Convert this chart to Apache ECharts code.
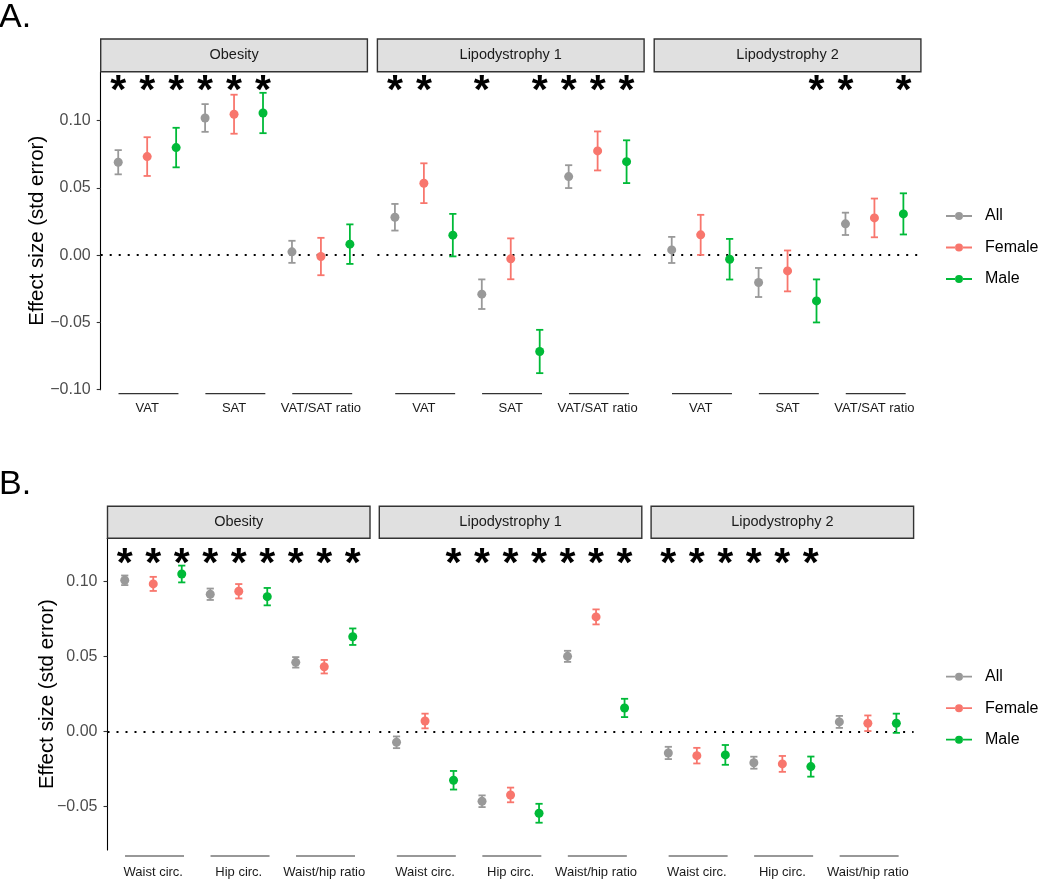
<!DOCTYPE html>
<html><head><meta charset="utf-8">
<script src="https://cdn.jsdelivr.net/npm/echarts@6.0.0/dist/echarts.min.js"></script>
<style>html,body{margin:0;padding:0;background:#fff}#c{width:1050px;height:879px}</style>
</head><body><div id="c"></div>
<script>
// ---------- DATA ----------
const groups = ['All', 'Female', 'Male'];
const facetNames = ['Obesity', 'Lipodystrophy 1', 'Lipodystrophy 2'];
const catsA = ['VAT', 'SAT', 'VAT/SAT ratio'];
const catsB = ['Waist circ.', 'Hip circ.', 'Waist/hip ratio'];
const yTicksA = [-0.10, -0.05, 0.00, 0.05, 0.10];
const yTicksB = [-0.05, 0.00, 0.05, 0.10];
const yTitle = 'Effect size (std error)';

// rows: All, Female, Male ; columns: categories
// Panel A
const A_obesity_est = [[0.0691, 0.1020, 0.0025], [0.0733, 0.1048, -0.0010], [0.0800, 0.1057, 0.0082]];
const A_obesity_se  = [[0.0090, 0.0103, 0.0082], [0.0144, 0.0145, 0.0139], [0.0147, 0.0150, 0.0147]];
const A_obesity_sig = [[1, 1, 0], [1, 1, 0], [1, 1, 0]];
const A_lipo1_est = [[0.0282, -0.0290, 0.0584], [0.0535, -0.0027, 0.0775], [0.0149, -0.0716, 0.0695]];
const A_lipo1_se  = [[0.0099, 0.0110, 0.0085], [0.0148, 0.0152, 0.0145], [0.0158, 0.0161, 0.0159]];
const A_lipo1_sig = [[1, 1, 1], [1, 0, 1], [0, 1, 1]];
const A_lipo2_est = [[0.0039, -0.0203, 0.0233], [0.0151, -0.0117, 0.0277], [-0.0030, -0.0340, 0.0307]];
const A_lipo2_se  = [[0.0097, 0.0108, 0.0083], [0.0149, 0.0152, 0.0144], [0.0151, 0.0160, 0.0153]];
const A_lipo2_sig = [[0, 0, 1], [0, 0, 0], [0, 1, 1]];
// Panel B
const B_obesity_est = [[0.1009, 0.0916, 0.0462], [0.0985, 0.0936, 0.0433], [0.1051, 0.0900, 0.0633]];
const B_obesity_se  = [[0.0032, 0.0038, 0.0035], [0.0047, 0.0048, 0.0045], [0.0056, 0.0058, 0.0055]];
const B_obesity_sig = [[1, 1, 1], [1, 1, 1], [1, 1, 1]];
const B_lipo1_est = [[-0.0071, -0.0464, 0.0502], [0.0071, -0.0422, 0.0765], [-0.0324, -0.0544, 0.0158]];
const B_lipo1_se  = [[0.0039, 0.0039, 0.0037], [0.0049, 0.0049, 0.0050], [0.0062, 0.0063, 0.0061]];
const B_lipo1_sig = [[0, 1, 1], [0, 1, 1], [1, 1, 1]];
const B_lipo2_est = [[-0.0142, -0.0207, 0.0065], [-0.0160, -0.0215, 0.0056], [-0.0155, -0.0233, 0.0056]];
const B_lipo2_se  = [[0.0041, 0.0040, 0.0040], [0.0052, 0.0053, 0.0052], [0.0066, 0.0067, 0.0064]];
const B_lipo2_sig = [[1, 1, 0], [1, 1, 0], [1, 1, 0]];

// ---------- STYLE / LAYOUT ----------
const FONT = 'Liberation Sans, Arial, Helvetica, sans-serif';
const groupColors = ['#999999', '#F8766D', '#00BA38'];
const DODGE = 1 / 3;
const panels = [
  { letter: 'A.', letterTop: 1, cats: catsA, ticks: yTicksA, yMin: -0.10, yMax: 0.1364,
    top: 71.7, height: 318, lefts: [100.7, 377.4, 654.2], width: 266.7, stripH: 32.7,
    starY: 0.1288, ulOff: 4, labMargin: 12.6, nameGap: 53, legendTop: 208,
    est: [A_obesity_est, A_lipo1_est, A_lipo2_est], se: [A_obesity_se, A_lipo1_se, A_lipo2_se],
    sig: [A_obesity_sig, A_lipo1_sig, A_lipo2_sig] },
  { letter: 'B.', letterTop: 468, cats: catsB, ticks: yTicksB, yMin: -0.0789, yMax: 0.1289,
    top: 538.3, height: 311.7, lefts: [107.5, 379.3, 651.1], width: 262.5, stripH: 32,
    starY: 0.1178, ulOff: 6, labMargin: 15.7, nameGap: 49.5, legendTop: 668.7,
    est: [B_obesity_est, B_lipo1_est, B_lipo2_est], se: [B_obesity_se, B_lipo1_se, B_lipo2_se],
    sig: [B_obesity_sig, B_lipo1_sig, B_lipo2_sig] }
];

const fmt = v => (v < -1e-9 ? '\u2212' : '') + Math.abs(v).toFixed(2);

const grids = [], xAxes = [], yAxes = [], series = [], graphics = [], legends = [];
const legendIcon = 'path://M0,3.1h9.2v1.8h-9.2z M16.8,3.1h9.2v1.8h-9.2z M9,4a4,4 0 1,0 8,0a4,4 0 1,0 -8,0z';

panels.forEach((P, pi) => {
  graphics.push({ type: 'text', left: -1, top: P.letterTop,
    style: { text: P.letter, fontSize: 34, fontFamily: FONT, fill: '#000' } });
  legends.push({
    orient: 'vertical', left: 946, top: P.legendTop, padding: 0, itemGap: 15.5,
    itemWidth: 26, itemHeight: 8, selectedMode: false,
    textStyle: { fontSize: 16, fontFamily: FONT, color: '#000', padding: [0, 0, 0, 8] },
    data: groups.map((g, gi) => ({ name: g, icon: legendIcon, itemStyle: { color: groupColors[gi] } }))
  });
  P.lefts.forEach((left, fi) => {
    const gIdx = grids.length;
    grids.push({ left: left, top: P.top, width: P.width, height: P.height, outerBoundsMode: 'none', containLabel: false });
    // strip
    graphics.push({ type: 'rect', shape: { x: left, y: P.top - P.stripH, width: P.width, height: P.stripH },
      style: { fill: '#e0e0e0', stroke: '#333333', lineWidth: 1.4 }, z: 10 });
    graphics.push({ type: 'text', x: left + P.width / 2, y: P.top - P.stripH / 2, z: 11,
      style: { text: facetNames[fi], fontSize: 14.5, fontFamily: FONT, fill: '#1a1a1a', align: 'center', verticalAlign: 'middle' } });
    xAxes.push({ gridIndex: gIdx, type: 'value', min: 0.465, max: 3.535,
      axisLine: { show: false }, axisTick: { show: false }, splitLine: { show: false },
      axisLabel: { customValues: [1, 2, 3], formatter: v => P.cats[Math.round(v) - 1],
        margin: P.labMargin, fontSize: 13, fontFamily: FONT, color: '#1a1a1a' } });
    const first = fi === 0;
    yAxes.push({ gridIndex: gIdx, type: 'value', min: P.yMin, max: P.yMax, show: first,
      splitLine: { show: false },
      axisLine: { show: true, lineStyle: { color: '#000', width: 1.1 } },
      axisTick: { show: true, length: 4, customValues: P.ticks, lineStyle: { color: '#333', width: 1.1 } },
      axisLabel: { customValues: P.ticks, formatter: fmt, margin: 10, fontSize: 16, fontFamily: FONT, color: '#4d4d4d' },
      name: first ? yTitle : '', nameLocation: 'middle', nameGap: P.nameGap, nameMoveOverlap: false,
      nameTextStyle: { fontSize: 20.5, fontFamily: FONT, color: '#000' } });

    const est = P.est[fi], se = P.se[fi], sig = P.sig[fi];
    groups.forEach((g, gi) => {
      const xs = est[gi].map((v, ci) => ci + 1 + (gi - 1) * DODGE);
      series.push({ type: 'custom', name: g, xAxisIndex: gIdx, yAxisIndex: gIdx, z: 2, silent: true,
        itemStyle: { color: groupColors[gi] }, encode: { x: 0, y: [1, 2] },
        data: est[gi].map((v, ci) => [xs[ci], v - se[gi][ci], v + se[gi][ci]]),
        renderItem: (params, api) => {
          const a = api.coord([api.value(0), api.value(2)]);
          const b = api.coord([api.value(0), api.value(1)]);
          const cw = 3.6, st = { stroke: groupColors[gi], lineWidth: 1.8 };
          return { type: 'group', children: [
            { type: 'line', shape: { x1: a[0], y1: a[1], x2: b[0], y2: b[1] }, style: st },
            { type: 'line', shape: { x1: a[0] - cw, y1: a[1], x2: a[0] + cw, y2: a[1] }, style: st },
            { type: 'line', shape: { x1: b[0] - cw, y1: b[1], x2: b[0] + cw, y2: b[1] }, style: st }
          ] };
        } });
      const sc = { type: 'scatter', name: g, xAxisIndex: gIdx, yAxisIndex: gIdx, z: 3, silent: true,
        symbolSize: 9, itemStyle: { color: groupColors[gi], opacity: 1 },
        data: est[gi].map((v, ci) => [xs[ci], v]) };
      if (gi === 0) {
        sc.markLine = { silent: true, symbol: 'none', label: { show: false }, z: 1,
          lineStyle: { type: [2, 7], color: '#000', width: 1.8 }, data: [{ yAxis: 0 }] };
      }
      series.push(sc);
    });
    // asterisks
    const stars = [];
    groups.forEach((g, gi) => sig[gi].forEach((s, ci) => { if (s) stars.push([ci + 1 + (gi - 1) * DODGE, P.starY]); }));
    series.push({ type: 'custom', name: 'sig', xAxisIndex: gIdx, yAxisIndex: gIdx, z: 4, silent: true, clip: false,
      data: stars, encode: { x: 0, y: 1 },
      renderItem: (params, api) => {
        const p = api.coord([api.value(0), api.value(1)]);
        return { type: 'text', x: p[0], y: p[1] + 10,
          style: { text: '*', fontSize: 41, fontWeight: 'bold', fontFamily: FONT, fill: '#000', align: 'center', verticalAlign: 'middle' } };
      } });
    // category underlines
    series.push({ type: 'custom', name: 'ul', xAxisIndex: gIdx, yAxisIndex: gIdx, z: 4, silent: true, clip: false,
      data: P.cats.map((c, ci) => [ci + 1]), encode: { x: 0 },
      renderItem: (params, api) => {
        const x = api.value(0);
        const cs = params.coordSys;
        const y = cs.y + cs.height + P.ulOff;
        const a = api.coord([x - 0.33, P.yMin]), b = api.coord([x + 0.36, P.yMin]);
        return { type: 'line', shape: { x1: a[0], y1: y, x2: b[0], y2: y }, style: { stroke: '#333', lineWidth: 1.2 } };
      } });
  });
});

const chart = echarts.init(document.getElementById('c'), null, { renderer: 'canvas' });
chart.setOption({
  animation: false, backgroundColor: '#fff',
  textStyle: { fontFamily: FONT },
  grid: grids, xAxis: xAxes, yAxis: yAxes, series: series, legend: legends, graphic: graphics
});
</script></body></html>
